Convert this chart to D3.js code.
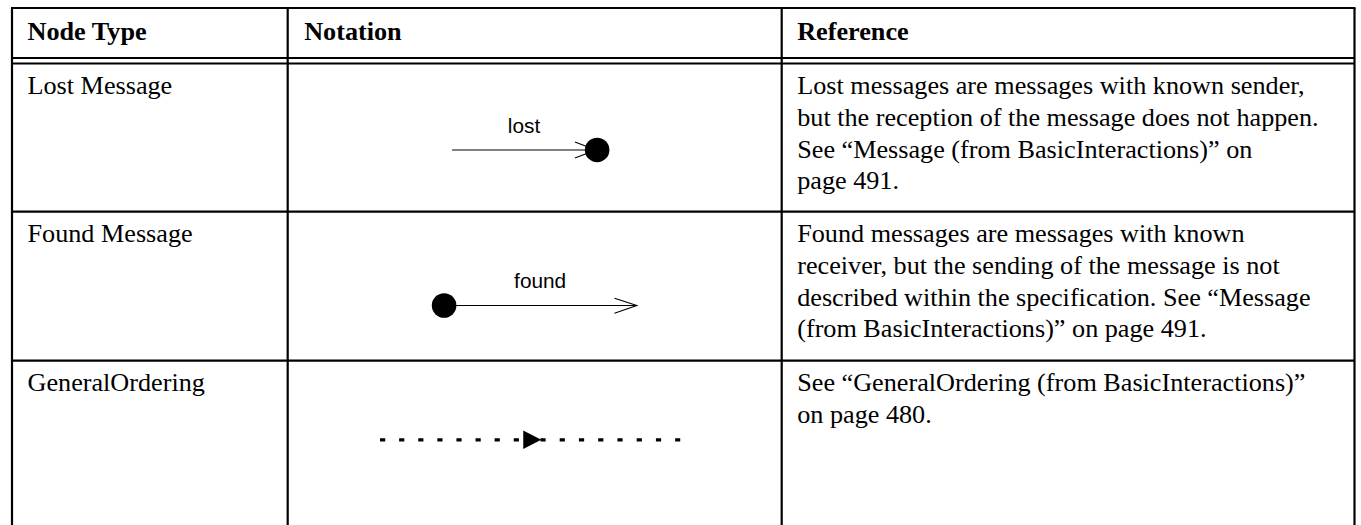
<!DOCTYPE html>
<html>
<head>
<meta charset="utf-8">
<script src="https://cdn.jsdelivr.net/npm/d3@7"></script>
<style>
  html, body { margin: 0; padding: 0; background: #fff; }
  svg { display: block; }
</style>
</head>
<body>
<svg id="chart" width="1361" height="525"></svg>
<script>
// ---- data ----
const headers = ["Node Type", "Notation", "Reference"];
const nodeTypes = ["Lost Message", "Found Message", "GeneralOrdering"];
const notationKinds = ["lost", "found", "ordering"];
const notationLabels = ["lost", "found", ""];
const referenceLines = [
  ["Lost messages are messages with known sender,",
   "but the reception of the message does not happen.",
   "See \u201cMessage (from BasicInteractions)\u201d on",
   "page 491."],
  ["Found messages are messages with known",
   "receiver, but the sending of the message is not",
   "described within the specification. See \u201cMessage",
   "(from BasicInteractions)\u201d on page 491."],
  ["See \u201cGeneralOrdering (from BasicInteractions)\u201d",
   "on page 480."]
];

// ---- layout ----
const W = 1361, H = 525;
const svg = d3.select("#chart");
const colEdges = [12, 287.7, 781.7, 1354.5];
const headerTop = 8, headerBottom = 58, headerBottom2 = 63.5;
const rowEdges = [63.5, 211.7, 360.7, 560];

const colX = d3.scaleOrdinal().domain(d3.range(colEdges.length)).range(colEdges);
const rowY = d3.scaleOrdinal().domain(d3.range(rowEdges.length)).range(rowEdges);

const serif = "'Liberation Serif', 'Times New Roman', serif";
const sans = "'Liberation Sans', Arial, Helvetica, sans-serif";
const fontSize = 26.2;
const lineH = 31.7;
const padX = 15.5;
const firstBase = 30.6;

// ---- grid lines ----
const g = svg.append("g").attr("stroke", "#000").attr("stroke-width", 2.2).attr("fill", "none");
g.append("line").attr("x1", colX(0) - 1).attr("x2", colX(3) + 1).attr("y1", headerTop).attr("y2", headerTop);
g.append("line").attr("x1", colX(0)).attr("x2", colX(3)).attr("y1", headerBottom).attr("y2", headerBottom);
g.append("line").attr("x1", colX(0)).attr("x2", colX(3)).attr("y1", headerBottom2).attr("y2", headerBottom2);
[1, 2].forEach(i => {
  g.append("line").attr("x1", colX(0)).attr("x2", colX(3)).attr("y1", rowY(i)).attr("y2", rowY(i));
});
d3.range(colEdges.length).forEach(i => {
  g.append("line").attr("x1", colX(i)).attr("x2", colX(i)).attr("y1", headerTop).attr("y2", H + 5);
});

// ---- header ----
svg.append("g").selectAll("text").data(headers).join("text")
  .attr("x", (d, i) => colX(i) + padX + (i === 1 ? 1 : 0))
  .attr("y", headerTop + 31.5)
  .attr("font-family", serif).attr("font-weight", "bold").attr("font-size", fontSize)
  .attr("fill", "#000").text(d => d);

// ---- node type column ----
svg.append("g").selectAll("text").data(nodeTypes).join("text")
  .attr("x", colX(0) + padX)
  .attr("y", (d, i) => rowY(i) + firstBase)
  .attr("font-family", serif).attr("font-size", fontSize)
  .attr("fill", "#000").text(d => d);

// ---- reference column ----
const refG = svg.append("g");
referenceLines.forEach((lines, r) => {
  refG.append("text")
    .attr("font-family", serif).attr("font-size", fontSize).attr("fill", "#000")
    .selectAll("tspan").data(lines).join("tspan")
    .attr("x", colX(2) + padX)
    .attr("y", (d, i) => rowY(r) + firstBase + i * lineH)
    .text(d => d);
});

// ---- notation column ----
// local scales mapping a unit cell (0..1) to the notation cell
const nx = d3.scaleLinear().domain([0, 1]).range([colX(1), colX(2)]);
notationKinds.forEach((kind, r) => {
  const ny = d3.scaleLinear().domain([0, 1]).range([rowY(r), rowY(r) + 148.5]);
  const cell = svg.append("g");
  const lbl = notationLabels[r];
  if (kind === "lost") {
    const y = ny(0.582), x0 = nx(0.3328), x1 = nx(0.624), xc = nx(0.6264);
    cell.append("line").attr("x1", x0).attr("x2", x1).attr("y1", y).attr("y2", y)
      .attr("stroke", "#000").attr("stroke-width", 1.1);
    cell.append("path")
      .attr("d", d3.line()([[x1 - 21, y - 8], [x1, y], [x1 - 21, y + 8]]))
      .attr("fill", "none").attr("stroke", "#000").attr("stroke-width", 1.1);
    cell.append("circle").attr("cx", xc).attr("cy", y).attr("r", 12.3).attr("fill", "#000");
    cell.append("text").attr("x", nx(0.4784)).attr("y", ny(0.465))
      .attr("text-anchor", "middle").attr("font-family", sans).attr("font-size", 20.8)
      .attr("fill", "#000").text(lbl);
  } else if (kind === "found") {
    const y = ny(0.632), xc = nx(0.3166), x1 = nx(0.7068);
    cell.append("line").attr("x1", xc).attr("x2", x1).attr("y1", y).attr("y2", y)
      .attr("stroke", "#000").attr("stroke-width", 1.1);
    cell.append("path")
      .attr("d", d3.line()([[x1 - 22.4, y - 7.4], [x1, y], [x1 - 22.4, y + 7.6]]))
      .attr("fill", "none").attr("stroke", "#000").attr("stroke-width", 1.1);
    cell.append("circle").attr("cx", xc).attr("cy", y).attr("r", 12.3).attr("fill", "#000");
    cell.append("text").attr("x", nx(0.511)).attr("y", ny(0.516))
      .attr("text-anchor", "middle").attr("font-family", sans).attr("font-size", 20.8)
      .attr("fill", "#000").text(lbl);
  } else {
    const y = ny(0.5326);
    const xa = nx(0.1869), xt = nx(0.4768), xtip = nx(0.5132), xb = nx(0.5116), xe = nx(0.7946);
    cell.append("line").attr("x1", xa).attr("x2", xt).attr("y1", y).attr("y2", y)
      .attr("stroke", "#000").attr("stroke-width", 3.2).attr("stroke-dasharray", "5.2,13.9");
    cell.append("line").attr("x1", xb).attr("x2", xe).attr("y1", y).attr("y2", y)
      .attr("stroke", "#000").attr("stroke-width", 3.2).attr("stroke-dasharray", "5.2,14.05");
    cell.append("path")
      .attr("d", d3.line()([[xt, y - 9.3], [xtip, y], [xt, y + 9.3]]) + "Z")
      .attr("fill", "#000");
  }
});
</script>
</body>
</html>
